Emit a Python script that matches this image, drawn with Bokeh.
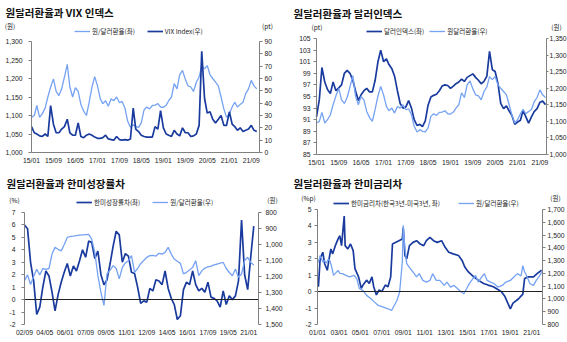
import pandas as pd
from bokeh.plotting import figure
from bokeh.models import (Range1d, LinearAxis, DatetimeAxis, FixedTicker, DatetimeTickFormatter,
                          NumeralTickFormatter, Legend, LegendItem, Label)
from bokeh.layouts import column, row
from bokeh.embed import file_html
from bokeh.resources import INLINE

LIGHT = "#76a2f2"
DARK = "#1a3b9e"
KFONT = "Noto Sans CJK KR"
NFONT = "'Liberation Sans Narrow', 'Liberation Sans', sans-serif"

# ---------------- data ----------------
months_start = "2015-01-01"
krw_m = [1095, 1100, 1127, 1095, 1105, 1120, 1150, 1177, 1199, 1165, 1154, 1172,
         1204, 1238, 1177, 1150, 1175, 1165, 1130, 1112, 1100, 1136, 1177, 1205,
         1180, 1145, 1132, 1140, 1125, 1145, 1140, 1150, 1135, 1138, 1120, 1085,
         1068, 1075, 1070, 1068, 1080, 1115, 1123, 1118, 1127, 1128, 1132, 1123,
         1122, 1128, 1140, 1150, 1186, 1172, 1210, 1222, 1198, 1180, 1177, 1165,
         1190, 1204, 1235, 1226, 1235, 1210, 1200, 1190, 1180, 1150, 1118, 1095,
         1105, 1123, 1136, 1123, 1130, 1136, 1159, 1172, 1195, 1180, 1172]
vix_m = [21, 16, 15, 13.5, 13, 15, 13, 38, 23, 16, 16, 19,
         21, 27, 16, 14, 14, 24, 13, 12, 14, 15, 14, 12.5,
         11.5, 11.5, 12, 14, 11, 10.5, 10, 13, 10.5, 10, 10.5, 10,
         11, 36, 19, 17, 14, 13, 12.5, 12.5, 12.5, 21, 19, 34,
         20, 15, 14, 13, 18, 15, 13.5, 20, 16, 16, 13, 13.5,
         15, 22, 82, 44, 32, 33, 27, 24, 27, 30, 22, 22,
         33, 23, 21, 18, 20, 17, 18, 19, 22, 18, 17]
dxy_m = [91.5, 94.5, 100.0, 97.5, 96.2, 95.5, 97.5, 96.0, 96.5, 97.0, 99.0, 99.5,
         99.0, 97.8, 96.0, 94.3, 95.3, 96.0, 96.4, 95.8, 95.8, 97.8, 101.0, 103.0,
         101.0, 101.5, 100.5, 99.8, 98.5, 96.0, 93.8, 93.0, 93.2, 94.3, 93.0, 91.0,
         90.0, 90.2, 89.8, 90.8, 93.5, 94.9, 95.2, 95.4, 96.0, 96.8, 97.0, 96.9,
         96.4, 96.8, 97.2, 97.5, 98.0, 97.6, 98.3, 98.6, 98.9, 98.3, 97.8, 97.2,
         97.6, 98.5, 102.8, 99.6, 99.3, 97.2, 93.8, 92.9, 93.4, 92.5, 91.7, 90.2,
         90.6, 90.9, 92.6, 91.5, 90.4, 91.5, 92.4, 92.9, 94.0, 94.2, 93.6]

quarters_start = "2002-09-01"
growth_gap = [6.0, 5.7, 3.0, 1.5, -1.2, -0.6, 1.0, 2.3, 1.9, 0.6,
              -0.9, 0.4, 1.4, 2.2, 2.9, 1.9, 2.7, 2.3, 3.1, 4.0,
              3.4, 4.7, 4.6, 3.3, 3.9, 2.0, 1.2, 1.6, 2.9, 4.3,
              5.5, 5.2, 3.0, 3.7, 3.5, 2.2, 2.1, 1.0, -0.3, -0.1,
              -0.2, 0.9, 0.7, 1.6, 1.5, 1.2, 2.3, 0.9, 0.1, -0.4,
              -1.6, -1.3, 0.8, 1.4, 1.2, 2.3, 1.2, 0.7, 0.9, 0.6,
              1.4, 0.2, 0.1, -0.1, -0.6, 0.7, -0.4, 0.3, 0.0, 0.3,
              1.5, 6.4, 2.0, 0.8, 3.4, 5.9]
krw_q = [1225, 1190, 1250, 1200, 1155, 1190, 1150, 1155, 1150, 1060,
         1018, 1030, 1040, 1000, 956, 950, 948, 945, 942, 940,
         938, 937, 966, 1050, 1195, 1300, 1381, 1184, 1160, 1132,
         1150, 1215, 1143, 1115, 1101, 1070, 1174, 1150, 1120, 1100,
         1080, 1070, 1068, 1072, 1055, 1060, 1049, 1018, 1060, 1091,
         1105, 1118, 1184, 1174, 1160, 1143, 1101, 1195, 1165, 1147,
         1140, 1135, 1128, 1122, 1117, 1112, 1150, 1175, 1195, 1153,
         1205, 1184, 1100, 1080, 1112, 1128]

spread_dates = ["2001-02", "2001-04", "2001-07", "2001-09", "2001-12", "2002-02", "2002-04",
                "2002-06", "2002-09", "2002-12", "2003-02", "2003-04", "2003-07", "2003-08",
                "2003-11", "2004-02", "2004-05", "2004-07", "2004-11", "2005-02", "2005-04",
                "2005-08", "2005-11", "2006-02", "2006-04", "2006-07", "2006-10", "2007-01",
                "2007-05", "2007-08", "2007-11", "2008-01", "2008-12", "2009-01", "2009-03",
                "2009-05", "2009-08", "2009-12", "2010-04", "2010-08", "2010-12", "2011-03",
                "2011-07", "2011-11", "2012-03", "2012-08", "2012-12", "2013-04", "2013-09",
                "2014-03", "2014-07", "2014-10", "2015-02", "2015-08", "2016-01", "2016-07",
                "2016-12", "2017-06", "2017-12", "2018-03", "2018-07", "2019-01", "2019-04",
                "2019-10", "2020-03", "2020-05", "2020-09", "2021-03", "2021-07", "2021-12"]
spread_vals = [0.3, 2.0, 2.4, 1.7, 1.3, 2.0, 2.6,
               2.3, 2.8, 3.2, 3.4, 2.8, 4.6, 2.8,
               2.6, 2.9, 2.5, 1.4, 0.9, 0.2, 0.4,
               0.7, 0.5, 0.9, 0.3, -0.2, 0.1, 0.0,
               0.4, 0.3, 0.9, 2.9, 3.2, 3.9, 2.2,
               2.0, 2.8, 3.0, 3.1, 2.9, 2.8, 3.1,
               3.3, 3.1, 3.0, 3.1, 2.7, 2.4, 2.3,
               2.2, 1.9, 1.5, 1.2, 0.9, 0.7, 0.5,
               0.4, 0.3, 0.1, 0.0, -0.3, -1.05, -0.7,
               -0.45, -0.15, 0.8, 0.9, 0.9, 1.1, 1.3]
krw4_dates = ["2001-01", "2001-03", "2001-04", "2001-07", "2001-09", "2001-11", "2002-01",
              "2002-03", "2002-05", "2002-07", "2002-09", "2002-12", "2003-02", "2003-05",
              "2003-09", "2004-01", "2004-06", "2004-09", "2004-12", "2005-04", "2005-08",
              "2006-01", "2006-05", "2006-09", "2007-03", "2007-08", "2007-12", "2008-03",
              "2008-06", "2008-09", "2008-10", "2008-12", "2009-01", "2009-03", "2009-05",
              "2009-09", "2009-12", "2010-04", "2010-07", "2010-11", "2011-03", "2011-07",
              "2011-10", "2012-02", "2012-06", "2012-11", "2013-02", "2013-06", "2013-10",
              "2014-02", "2014-06", "2014-09", "2014-12", "2015-03", "2015-07", "2015-10",
              "2016-01", "2016-05", "2016-08", "2016-11", "2017-03", "2017-07", "2017-11",
              "2018-04", "2018-08", "2019-01", "2019-05", "2019-09", "2020-01", "2020-03",
              "2020-05", "2020-07", "2020-11", "2021-03", "2021-06", "2021-09", "2021-12"]
krw4_vals = [1280, 1310, 1340, 1290, 1300, 1280, 1310,
             1300, 1250, 1185, 1200, 1224, 1200, 1198,
             1185, 1172, 1185, 1158, 1080, 1067, 1028,
             1001, 975, 949, 936, 923, 910, 949,
             988, 1054, 1132, 1289, 1577, 1394, 1276,
             1237, 1211, 1172, 1198, 1145, 1132, 1145,
             1198, 1145, 1145, 1106, 1132, 1093, 1106,
             1080, 1054, 1041, 1080, 1119, 1158, 1185,
             1132, 1172, 1198, 1145, 1132, 1119, 1093,
             1106, 1132, 1145, 1172, 1198, 1180, 1260,
             1211, 1185, 1119, 1106, 1145, 1172, 1210]

xt_1521 = ["15/01", "15/09", "16/05", "17/01", "17/09", "18/05", "19/01", "19/09", "20/05", "21/01", "21/09"]
xt_p3 = ["02/09", "04/05", "06/01", "07/09", "09/05", "11/01", "12/09", "14/05", "16/01", "17/09", "19/05", "21/01"]
xt_p4 = ["01/01", "03/01", "05/01", "07/01", "09/01", "11/01", "13/01", "15/01", "17/01", "19/01", "21/01"]
y1_left = [1000, 1050, 1100, 1150, 1200, 1250, 1300]
y1_right = [0, 10, 20, 30, 40, 50, 60, 70, 80, 90]
y2_left = [85, 87, 89, 91, 93, 95, 97, 99, 101, 103, 105]
y2_right = [1000, 1050, 1100, 1150, 1200, 1250, 1300, 1350]
y3_left = [-2, -1, 0, 1, 2, 3, 4, 5, 6, 7]
y3_right = [800, 900, 1000, 1100, 1200, 1300, 1400, 1500]
y4_left = [-2, -1, 0, 1, 2, 3, 4, 5]
y4_right = [800, 900, 1000, 1100, 1200, 1300, 1400, 1500, 1600, 1700]

# ---------------- helpers ----------------
def ms(s):
    return pd.Timestamp(s).value / 1e6

def tick_ms(labels):
    return [ms("20" + l.replace("/", "-") + "-01") for l in labels]

FMT = "%y/%m"
def date_fmt():
    return DatetimeTickFormatter(microseconds=FMT, milliseconds=FMT, seconds=FMT, minsec=FMT,
                                 minutes=FMT, hourmin=FMT, hours=FMT, days=FMT, months=FMT, years=FMT)

def extend(lo, hi, p_lo, p_hi, total):
    k = (p_hi - p_lo) / (hi - lo)
    return lo - p_lo / k, hi + (total - p_hi) / k

def style_axis(ax, tick_out=3, standoff=4, line=True, color="#808080"):
    ax.major_label_text_font = NFONT
    ax.major_label_text_font_size = "6.8px"
    ax.major_label_text_color = "#222222"
    ax.axis_line_color = color if line else None
    ax.major_tick_line_color = color if tick_out > 0 else None
    ax.major_tick_out = tick_out
    ax.major_tick_in = 0
    ax.minor_tick_line_color = None
    ax.major_label_standoff = standoff

def make_panel(W, H, L, R, T, B, x_in, yl_in, yr_in, xticks, yl_ticks, yr_ticks,
               lfmt, rfmt, xline, lstand, rstand, zero_line, rtick=3):
    s, e = ms(x_in[0]), ms(x_in[1])
    xs, xe = extend(s, e, L, R, W)
    ys, ye = extend(yl_in[0], yl_in[1], H - B, H - T, H)
    rs, re = extend(yr_in[0], yr_in[1], H - B, H - T, H)
    p = figure(width=W, height=H, x_range=Range1d(xs, xe), y_range=Range1d(ys, ye),
               x_axis_location=None, y_axis_location=None,
               output_backend="svg", toolbar_location=None,
               min_border=0, min_border_left=0, min_border_right=0,
               min_border_top=0, min_border_bottom=0)
    p.extra_y_ranges = {"r": Range1d(rs, re)}
    p.grid.visible = False
    p.outline_line_color = None
    p.background_fill_color = "white"
    p.border_fill_color = "white"

    xa = DatetimeAxis(fixed_location=yl_in[0], bounds=(s, e),
                      ticker=FixedTicker(ticks=tick_ms(xticks)), formatter=date_fmt())
    style_axis(xa, tick_out=0, standoff=4, line=xline)
    p.add_layout(xa, "below")
    if zero_line:
        za = DatetimeAxis(fixed_location=0, bounds=(s, e), ticker=FixedTicker(ticks=[]))
        style_axis(za, tick_out=0, standoff=0, line=True, color="#222222")
        za.major_label_text_alpha = 0
        p.add_layout(za, "below")
    la = LinearAxis(fixed_location=s, bounds=(min(yl_in), max(yl_in)),
                    ticker=FixedTicker(ticks=yl_ticks), formatter=NumeralTickFormatter(format=lfmt))
    style_axis(la, tick_out=3, standoff=lstand)
    p.add_layout(la, "left")
    ra = LinearAxis(y_range_name="r", fixed_location=e, bounds=(min(yr_in), max(yr_in)),
                    ticker=FixedTicker(ticks=yr_ticks), formatter=NumeralTickFormatter(format=rfmt))
    style_axis(ra, tick_out=rtick, standoff=rstand)
    p.add_layout(ra, "right")
    return p

def add_text(p, H, x, y, text, size="6.5px", bold=False, align="center"):
    p.add_layout(Label(x=x, y=H - y, x_units="screen", y_units="screen", text=text,
                       text_font=KFONT, text_font_size=size,
                       text_font_style="bold" if bold else "normal",
                       text_align=align, text_baseline="middle", text_color="#111111"))

def add_legend(p, H, items, x, yc, spacing):
    leg = Legend(items=[LegendItem(label=l, renderers=[r]) for l, r in items],
                 orientation="horizontal", location=(x, H - yc - 4))
    leg.label_text_font = KFONT
    leg.label_text_font_size = "6.5px"
    leg.label_text_color = "#222222"
    leg.glyph_width = 16
    leg.glyph_height = 6
    leg.label_height = 8
    leg.label_standoff = 2
    leg.spacing = spacing
    leg.padding = 0
    leg.margin = 0
    leg.border_line_color = None
    leg.background_fill_alpha = 0
    p.add_layout(leg)

TSIZE = "10.5px"

# ---------------- panel 1 ----------------
dates_m = pd.date_range(months_start, periods=len(krw_m), freq="MS")
H1 = 170
p1 = make_panel(283, H1, 31, 259, 41, 152, ("2015-01-01", "2021-12-01"), (1000, 1300), (0, 90),
                xt_1521, y1_left, y1_right, "0,0", "0", True, 6, 2, False)
r1a = p1.line(dates_m, krw_m, color=LIGHT, line_width=1.3)
r1b = p1.line(dates_m, vix_m, color=DARK, line_width=1.7, y_range_name="r")
add_text(p1, H1, 5, 12, "원달러환율과 VIX 인덱스", size=TSIZE, bold=True, align="left")
add_text(p1, H1, 9.5, 25, "(원)")
add_text(p1, H1, 267, 25, "(pt)")
add_legend(p1, H1, [("원/달러환율(좌)", r1a), ("VIX Index(우)", r1b)], 74, 31.7, 12)

# ---------------- panel 2 ----------------
H2 = 170
p2 = make_panel(284, H2, 33, 263, 38, 154, ("2015-01-01", "2021-11-12"), (85, 105), (1000, 1350),
                xt_1521, y2_left, y2_right, "0", "0,0", True, 3, 1, False, rtick=2)
r2a = p2.line(dates_m, dxy_m, color=DARK, line_width=1.7)
r2b = p2.line(dates_m, krw_m, color=LIGHT, line_width=1.3, y_range_name="r")
add_text(p2, H2, 10, 13, "원달러환율과 달러인덱스", size=TSIZE, bold=True, align="left")
add_text(p2, H2, 33.5, 26, "(pt)")
add_text(p2, H2, 273, 26, "(원)")
add_legend(p2, H2, [("달러인덱스(좌)", r2a), ("원달러환율(우)", r2b)], 83, 32.3, 5)

# ---------------- panel 3 ----------------
dates_q = pd.date_range(quarters_start, periods=len(growth_gap), freq="3MS")
H3 = 172
p3 = make_panel(283, H3, 24, 258, 42, 154, ("2002-09-01", "2021-10-20"), (-2, 7), (1500, 800),
                xt_p3, y3_left, y3_right, "0", "0,0", False, 6, 4, True)
r3a = p3.line(dates_q, growth_gap, color=DARK, line_width=1.7)
r3b = p3.line(dates_q, krw_q, color=LIGHT, line_width=1.3, y_range_name="r")
add_text(p3, H3, 6, 12.7, "원달러환율과 한미성장률차", size=TSIZE, bold=True, align="left")
add_text(p3, H3, 14, 29, "(%)")
add_text(p3, H3, 272, 29, "(원)")
add_legend(p3, H3, [("한미성장률차(좌)", r3a), ("원/달러환율(우)", r3b)], 76, 32.7, 12)

# ---------------- panel 4 ----------------
H4 = 172
p4 = make_panel(284, H4, 34, 259, 39, 154, ("2001-01-01", "2022-01-01"), (-2, 5), (800, 1700),
                xt_p4, y4_left, y4_right, "0", "0,0", False, 3, 2, True)
r4a = p4.line([pd.Timestamp(d) for d in spread_dates], spread_vals, color=DARK, line_width=1.7)
r4b = p4.line([pd.Timestamp(d) for d in krw4_dates], krw4_vals, color=LIGHT, line_width=1.3, y_range_name="r")
add_text(p4, H4, 10, 13.3, "원달러환율과 한미금리차", size=TSIZE, bold=True, align="left")
add_text(p4, H4, 25, 27, "(%p)")
add_text(p4, H4, 272, 27, "(원)")
add_legend(p4, H4, [("한미금리차(한국3년-미국3년, 좌)", r4a), ("원/달러환율(우)", r4b)], 50, 34.3, 18)

layout = column(row(p1, p2), row(p3, p4))
open("out.html", "w").write(file_html(layout, INLINE))
